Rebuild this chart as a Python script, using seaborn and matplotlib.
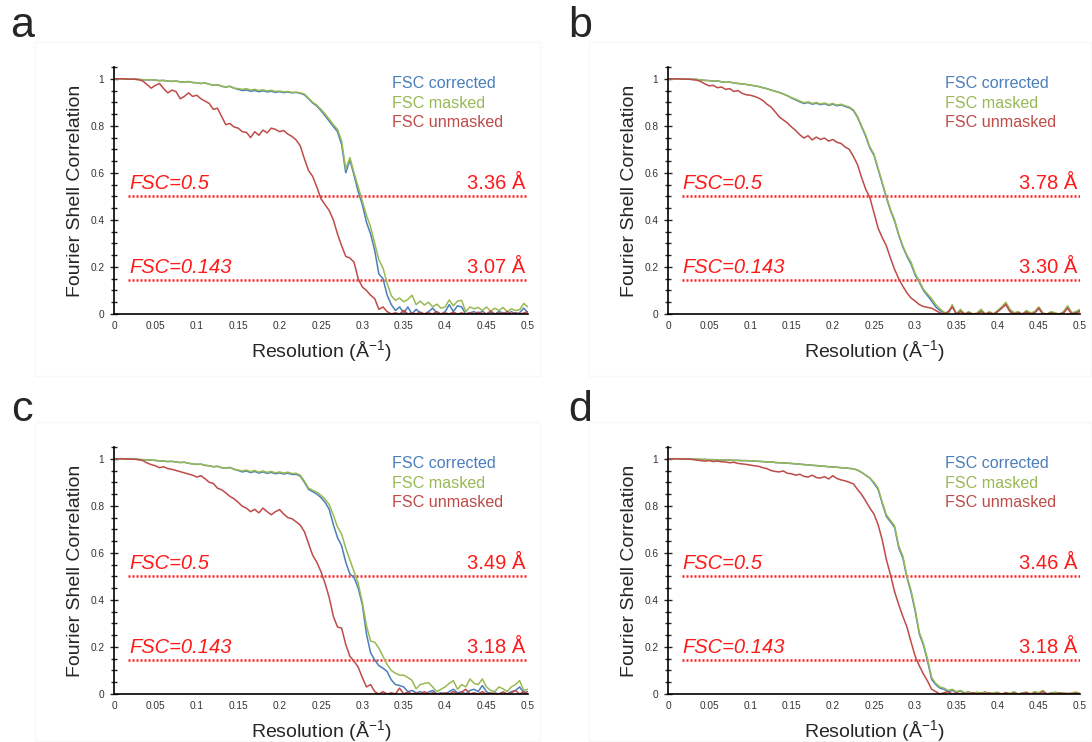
import numpy as np
import pandas as pd
import matplotlib
matplotlib.use('Agg')
import matplotlib.pyplot as plt
from matplotlib.ticker import MultipleLocator, FixedLocator
from matplotlib.patches import Rectangle
import seaborn as sns

# Style
sns.set_style('ticks')
plt.rcParams['font.family'] = ['Liberation Sans', 'DejaVu Sans']
plt.rcParams['mathtext.fontset'] = 'custom'
plt.rcParams['mathtext.rm'] = 'Liberation Sans'
plt.rcParams['mathtext.it'] = 'Liberation Sans:italic'

# Spatial frequency shells (1/A), 0 to 0.5 in steps of 0.005
RES = np.linspace(0, 0.5, 101)

# ---- panel a ----
A_CORRECTED = [
    1.000, 1.000, 1.000, 0.999, 0.998, 0.998, 0.997, 0.996, 0.995, 0.996,
    0.994, 0.992, 0.993, 0.990, 0.989, 0.990, 0.987, 0.986, 0.988, 0.984,
    0.983, 0.980, 0.982, 0.977, 0.972, 0.975, 0.968, 0.965, 0.968, 0.960,
    0.955, 0.950, 0.952, 0.947, 0.950, 0.945, 0.949, 0.944, 0.947, 0.942,
    0.945, 0.941, 0.944, 0.940, 0.942, 0.938, 0.932, 0.915, 0.897, 0.884,
    0.865, 0.843, 0.820, 0.797, 0.775, 0.720, 0.600, 0.655, 0.590, 0.520,
    0.465, 0.390, 0.340, 0.270, 0.170, 0.150, 0.080, 0.040, 0.015, 0.030,
    0.005, 0.030, 0.000, 0.020, 0.005, 0.000, 0.010, 0.025, 0.005, 0.000,
    0.010, 0.040, 0.010, 0.035, 0.030, 0.000, 0.005, 0.010, 0.000, 0.012,
    0.000, 0.008, 0.000, 0.010, 0.005, 0.000, 0.010, 0.000, 0.005, 0.025,
    0.005]
A_MASKED = [
    1.000, 1.000, 1.000, 0.999, 0.998, 0.998, 0.997, 0.996, 0.995, 0.996,
    0.994, 0.992, 0.993, 0.990, 0.989, 0.990, 0.987, 0.986, 0.988, 0.984,
    0.983, 0.980, 0.982, 0.977, 0.972, 0.975, 0.968, 0.965, 0.968, 0.960,
    0.958, 0.955, 0.958, 0.952, 0.955, 0.950, 0.953, 0.948, 0.951, 0.946,
    0.948, 0.944, 0.946, 0.942, 0.943, 0.940, 0.935, 0.918, 0.900, 0.888,
    0.870, 0.850, 0.828, 0.805, 0.785, 0.735, 0.615, 0.665, 0.600, 0.540,
    0.480, 0.420, 0.370, 0.300, 0.230, 0.195, 0.130, 0.078, 0.058, 0.068,
    0.052, 0.062, 0.080, 0.040, 0.055, 0.038, 0.050, 0.030, 0.042, 0.025,
    0.030, 0.060, 0.035, 0.055, 0.058, 0.010, 0.030, 0.022, 0.028, 0.015,
    0.030, 0.012, 0.025, 0.015, 0.028, 0.010, 0.022, 0.015, 0.018, 0.045,
    0.030]
A_UNMASKED = [
    1.000, 1.000, 1.000, 0.999, 0.998, 0.998, 0.996, 0.990, 0.975, 0.960,
    0.972, 0.980, 0.958, 0.940, 0.952, 0.945, 0.915, 0.925, 0.940, 0.925,
    0.930, 0.915, 0.905, 0.895, 0.870, 0.875, 0.840, 0.805, 0.810, 0.795,
    0.790, 0.775, 0.772, 0.750, 0.775, 0.760, 0.782, 0.770, 0.790, 0.785,
    0.775, 0.780, 0.765, 0.755, 0.740, 0.715, 0.660, 0.610, 0.585, 0.540,
    0.490, 0.465, 0.440, 0.400, 0.340, 0.290, 0.245, 0.238, 0.220, 0.150,
    0.115, 0.100, 0.080, 0.065, 0.020, 0.030, 0.010, 0.000, 0.005, 0.000,
    0.015, 0.000, 0.005, 0.000, 0.008, 0.000, 0.005, 0.000, 0.010, 0.000,
    0.005, 0.000, 0.008, 0.000, 0.005, 0.000, 0.006, 0.000, 0.008, 0.002,
    0.000, 0.012, 0.000, 0.005, 0.000, 0.010, 0.000, 0.006, 0.000, 0.004,
    0.010]

# ---- panel b ----
B_CORRECTED = [
    1.000, 1.000, 1.000, 0.999, 0.999, 0.998, 0.998, 0.997, 0.995, 0.993,
    0.992, 0.990, 0.991, 0.987, 0.985, 0.986, 0.982, 0.980, 0.978, 0.976,
    0.973, 0.970, 0.967, 0.962, 0.958, 0.952, 0.947, 0.942, 0.935, 0.928,
    0.918, 0.910, 0.902, 0.895, 0.899, 0.892, 0.896, 0.890, 0.894, 0.887,
    0.892, 0.885, 0.889, 0.882, 0.877, 0.865, 0.836, 0.796, 0.755, 0.705,
    0.675, 0.615, 0.555, 0.495, 0.440, 0.395, 0.335, 0.285, 0.245, 0.212,
    0.165, 0.135, 0.100, 0.078, 0.055, 0.030, 0.015, 0.005, 0.000, 0.035,
    0.000, 0.015, 0.000, 0.005, 0.000, 0.000, 0.015, 0.000, 0.005, 0.000,
    0.010, 0.025, 0.045, 0.015, 0.000, 0.005, 0.000, 0.010, 0.000, 0.005,
    0.025, 0.000, 0.000, 0.005, 0.000, 0.000, 0.005, 0.030, 0.000, 0.005,
    0.015]
B_MASKED = [
    1.000, 1.000, 1.000, 0.999, 0.999, 0.998, 0.998, 0.997, 0.995, 0.993,
    0.992, 0.990, 0.991, 0.987, 0.985, 0.986, 0.982, 0.980, 0.978, 0.976,
    0.973, 0.970, 0.967, 0.962, 0.958, 0.952, 0.947, 0.942, 0.935, 0.928,
    0.920, 0.913, 0.905, 0.898, 0.902, 0.895, 0.899, 0.893, 0.897, 0.890,
    0.895, 0.888, 0.892, 0.885, 0.880, 0.868, 0.840, 0.800, 0.760, 0.710,
    0.680, 0.620, 0.560, 0.500, 0.445, 0.400, 0.340, 0.290, 0.250, 0.220,
    0.172, 0.140, 0.105, 0.085, 0.065, 0.040, 0.022, 0.008, 0.000, 0.040,
    0.000, 0.020, 0.000, 0.010, 0.000, 0.005, 0.020, 0.000, 0.010, 0.000,
    0.015, 0.030, 0.050, 0.020, 0.005, 0.010, 0.000, 0.015, 0.005, 0.010,
    0.030, 0.005, 0.000, 0.010, 0.005, 0.000, 0.010, 0.035, 0.005, 0.010,
    0.020]
B_UNMASKED = [
    1.000, 1.000, 1.000, 0.999, 0.998, 0.998, 0.996, 0.994, 0.988, 0.978,
    0.970, 0.972, 0.962, 0.965, 0.955, 0.958, 0.946, 0.950, 0.938, 0.932,
    0.930, 0.925, 0.918, 0.908, 0.892, 0.880, 0.860, 0.838, 0.825, 0.812,
    0.795, 0.780, 0.762, 0.748, 0.758, 0.740, 0.752, 0.742, 0.748, 0.735,
    0.742, 0.730, 0.725, 0.710, 0.700, 0.670, 0.635, 0.580, 0.530, 0.495,
    0.430, 0.365, 0.325, 0.290, 0.238, 0.190, 0.150, 0.118, 0.090, 0.068,
    0.055, 0.040, 0.032, 0.028, 0.025, 0.015, 0.005, 0.000, 0.010, 0.030,
    0.000, 0.010, 0.000, 0.005, 0.000, 0.000, 0.010, 0.000, 0.005, 0.000,
    0.010, 0.025, 0.040, 0.010, 0.000, 0.005, 0.000, 0.008, 0.000, 0.005,
    0.025, 0.000, 0.000, 0.005, 0.000, 0.000, 0.005, 0.025, 0.000, 0.005,
    0.010]

# ---- panel c ----
C_CORRECTED = [
    1.000, 1.000, 1.000, 0.999, 0.999, 0.998, 0.997, 0.996, 0.995, 0.994,
    0.993, 0.991, 0.990, 0.988, 0.989, 0.986, 0.984, 0.985, 0.981, 0.978,
    0.976, 0.977, 0.972, 0.970, 0.966, 0.968, 0.962, 0.960, 0.963, 0.955,
    0.950, 0.944, 0.948, 0.941, 0.946, 0.939, 0.944, 0.938, 0.942, 0.936,
    0.940, 0.935, 0.939, 0.933, 0.934, 0.926, 0.900, 0.870, 0.860, 0.850,
    0.835, 0.815, 0.785, 0.720, 0.665, 0.630, 0.560, 0.510, 0.495, 0.450,
    0.380, 0.255, 0.175, 0.145, 0.120, 0.110, 0.095, 0.060, 0.040, 0.036,
    0.030, 0.010, 0.015, 0.005, 0.010, 0.000, 0.008, 0.015, 0.000, 0.005,
    0.000, 0.010, 0.020, 0.005, 0.010, 0.000, 0.015, 0.020, 0.010, 0.036,
    0.010, 0.000, 0.005, 0.000, 0.008, 0.000, 0.010, 0.015, 0.030, 0.005,
    0.010]
C_MASKED = [
    1.000, 1.000, 1.000, 0.999, 0.999, 0.998, 0.997, 0.996, 0.995, 0.994,
    0.993, 0.991, 0.990, 0.988, 0.989, 0.986, 0.984, 0.985, 0.981, 0.978,
    0.976, 0.977, 0.972, 0.970, 0.966, 0.968, 0.962, 0.960, 0.963, 0.956,
    0.952, 0.948, 0.952, 0.945, 0.950, 0.943, 0.948, 0.942, 0.946, 0.940,
    0.944, 0.939, 0.943, 0.937, 0.938, 0.930, 0.905, 0.875, 0.866, 0.858,
    0.845, 0.828, 0.805, 0.760, 0.710, 0.680, 0.620, 0.570, 0.520, 0.470,
    0.390, 0.290, 0.225, 0.220, 0.195, 0.160, 0.125, 0.100, 0.088, 0.080,
    0.080, 0.070, 0.058, 0.022, 0.040, 0.045, 0.048, 0.030, 0.010, 0.020,
    0.030, 0.045, 0.057, 0.020, 0.040, 0.030, 0.064, 0.045, 0.040, 0.064,
    0.030, 0.015, 0.010, 0.030, 0.022, 0.010, 0.030, 0.040, 0.057, 0.015,
    0.020]
C_UNMASKED = [
    1.000, 1.000, 1.000, 0.999, 0.998, 0.998, 0.996, 0.992, 0.982, 0.975,
    0.970, 0.962, 0.966, 0.958, 0.955, 0.950, 0.945, 0.940, 0.935, 0.930,
    0.922, 0.928, 0.915, 0.900, 0.895, 0.875, 0.868, 0.855, 0.840, 0.830,
    0.815, 0.798, 0.790, 0.775, 0.785, 0.770, 0.790, 0.775, 0.762, 0.775,
    0.784, 0.765, 0.750, 0.745, 0.732, 0.718, 0.690, 0.640, 0.590, 0.560,
    0.520, 0.470, 0.410, 0.330, 0.285, 0.280, 0.210, 0.160, 0.140, 0.114,
    0.070, 0.030, 0.040, 0.010, 0.000, 0.010, 0.000, 0.005, 0.000, 0.025,
    0.000, 0.008, 0.000, 0.005, 0.000, 0.010, 0.000, 0.005, 0.000, 0.000,
    0.005, 0.000, 0.010, 0.000, 0.008, 0.020, 0.000, 0.005, 0.000, 0.010,
    0.000, 0.005, 0.000, 0.000, 0.008, 0.000, 0.005, 0.015, 0.000, 0.010,
    0.000]

# ---- panel d ----
D_CORRECTED = [
    1.000, 1.000, 1.000, 1.000, 0.999, 0.999, 0.998, 0.998, 0.997, 0.997,
    0.996, 0.996, 0.995, 0.995, 0.994, 0.994, 0.993, 0.993, 0.992, 0.992,
    0.991, 0.990, 0.989, 0.988, 0.986, 0.987, 0.984, 0.983, 0.982, 0.981,
    0.980, 0.978, 0.977, 0.975, 0.974, 0.972, 0.971, 0.969, 0.968, 0.966,
    0.965, 0.964, 0.962, 0.961, 0.959, 0.957, 0.952, 0.942, 0.930, 0.918,
    0.895, 0.870, 0.810, 0.755, 0.732, 0.708, 0.622, 0.578, 0.495, 0.432,
    0.352, 0.255, 0.208, 0.140, 0.062, 0.040, 0.025, 0.020, 0.010, 0.015,
    0.008, 0.012, 0.003, 0.008, 0.000, 0.005, 0.000, 0.008, 0.000, 0.003,
    0.005, 0.000, 0.004, 0.000, 0.008, 0.000, 0.003, 0.005, 0.000, 0.008,
    0.003, 0.012, 0.000, 0.003, 0.005, 0.000, 0.004, 0.000, 0.003, 0.005,
    0.000]
D_MASKED = [
    1.000, 1.000, 1.000, 1.000, 0.999, 0.999, 0.998, 0.998, 0.997, 0.997,
    0.996, 0.996, 0.995, 0.995, 0.994, 0.994, 0.993, 0.993, 0.992, 0.992,
    0.991, 0.990, 0.989, 0.988, 0.986, 0.987, 0.984, 0.983, 0.982, 0.981,
    0.980, 0.978, 0.977, 0.975, 0.974, 0.972, 0.971, 0.969, 0.968, 0.966,
    0.965, 0.964, 0.962, 0.961, 0.959, 0.957, 0.952, 0.942, 0.930, 0.918,
    0.900, 0.875, 0.815, 0.762, 0.738, 0.715, 0.630, 0.586, 0.500, 0.440,
    0.360, 0.262, 0.215, 0.149, 0.070, 0.045, 0.030, 0.025, 0.015, 0.020,
    0.010, 0.015, 0.005, 0.010, 0.000, 0.008, 0.003, 0.010, 0.000, 0.005,
    0.008, 0.000, 0.006, 0.003, 0.010, 0.000, 0.005, 0.008, 0.000, 0.010,
    0.005, 0.015, 0.000, 0.005, 0.008, 0.003, 0.006, 0.000, 0.005, 0.008,
    0.003]
D_UNMASKED = [
    1.000, 1.000, 1.000, 0.999, 0.999, 0.998, 0.997, 0.994, 0.992, 0.990,
    0.992, 0.988, 0.990, 0.987, 0.986, 0.983, 0.985, 0.980, 0.978, 0.976,
    0.973, 0.970, 0.968, 0.962, 0.958, 0.950, 0.946, 0.944, 0.948, 0.938,
    0.936, 0.930, 0.934, 0.925, 0.922, 0.930, 0.920, 0.918, 0.924, 0.914,
    0.928, 0.916, 0.910, 0.906, 0.900, 0.893, 0.870, 0.848, 0.820, 0.790,
    0.765, 0.720, 0.655, 0.572, 0.507, 0.435, 0.380, 0.330, 0.285, 0.221,
    0.160, 0.120, 0.085, 0.055, 0.020, 0.010, 0.000, 0.005, 0.010, 0.000,
    0.005, 0.000, 0.003, 0.000, 0.006, 0.000, 0.004, 0.000, 0.005, 0.000,
    0.003, 0.000, 0.005, 0.000, 0.004, 0.000, 0.003, 0.006, 0.000, 0.004,
    0.000, 0.010, 0.000, 0.003, 0.000, 0.005, 0.000, 0.003, 0.000, 0.004,
    0.000]

PANELS = ['a', 'b', 'c', 'd']
CURVES = [
    [A_CORRECTED, A_MASKED, A_UNMASKED],
    [B_CORRECTED, B_MASKED, B_UNMASKED],
    [C_CORRECTED, C_MASKED, C_UNMASKED],
    [D_CORRECTED, D_MASKED, D_UNMASKED],
]
SERIES = ['FSC corrected', 'FSC masked', 'FSC unmasked']
COLORS = ['#4a7ebb', '#98b954', '#be4b48']
THRESHOLDS = [0.5, 0.143]
THRESH_LABELS = ['FSC=0.5', 'FSC=0.143']
RES_AT_05 = ['3.36 Å', '3.78 Å', '3.49 Å', '3.46 Å']
RES_AT_0143 = ['3.07 Å', '3.30 Å', '3.18 Å', '3.18 Å']
X_TICKS = [0, 0.05, 0.1, 0.15, 0.2, 0.25, 0.3, 0.35, 0.4, 0.45, 0.5]
X_TICKLABELS = ['0', '0.05', '0.1', '0.15', '0.2', '0.25', '0.3', '0.35', '0.4', '0.45', '0.5']
Y_TICKS = [0, 0.2, 0.4, 0.6, 0.8, 1.0]
Y_TICKLABELS = ['0', '0.2', '0.4', '0.6', '0.8', '1']

fig = plt.figure(figsize=(10.92, 7.42), dpi=100)
fig.patch.set_facecolor('white')

# very faint frames around each panel, as in the source figure
W, H = 1092.0, 742.0
for (x0, y0, x1, y1) in [(35, 42, 540, 376), (589, 42, 1091, 376),
                         (35, 422, 540, 741), (589, 422, 1091, 741)]:
    fig.patches.append(Rectangle((x0 / W, 1 - y1 / H), (x1 - x0) / W, (y1 - y0) / H,
                                 transform=fig.transFigure, fill=False,
                                 edgecolor='#f8f8f8', lw=1.0, zorder=0))

# axes rectangles (figure fractions)
ax_rects = [
    (0.1044, 0.5768, 0.3790, 0.3329),
    (0.6117, 0.5768, 0.3773, 0.3329),
    (0.1044, 0.0647, 0.3790, 0.3329),
    (0.6117, 0.0647, 0.3773, 0.3329),
]
letter_pos = [(0.020, 0.950), (0.531, 0.950), (0.020, 0.433), (0.531, 0.433)]

palette = dict(zip(SERIES, COLORS))

for k, rect in enumerate(ax_rects):
    ax = fig.add_axes(rect)
    df = pd.DataFrame({
        'res': np.tile(RES, len(SERIES)),
        'fsc': np.concatenate([np.asarray(c) for c in CURVES[k]]),
        'curve': np.repeat(SERIES, len(RES)),
    })
    sns.lineplot(data=df, x='res', y='fsc', hue='curve', hue_order=SERIES,
                 palette=palette, estimator=None, sort=False, linewidth=1.1,
                 ax=ax, legend=True)

    # threshold lines and labels
    for thr, tlab, rlab in zip(THRESHOLDS, THRESH_LABELS, [RES_AT_05[k], RES_AT_0143[k]]):
        ax.axhline(thr, xmin=0.034, xmax=1.0, color='#ff2020', lw=1.8,
                   linestyle=(0, (0.8, 0.8)), zorder=1)
        ax.text(0.018, thr + 0.016, tlab, color='#ff1a1a', fontsize=14.5,
                style='italic', ha='left', va='bottom')
        ax.text(0.497, thr + 0.016, rlab, color='#ff1a1a', fontsize=14.5,
                ha='right', va='bottom')

    handles, labels = ax.get_legend_handles_labels()
    ax.legend(handles, labels, loc='upper left', bbox_to_anchor=(0.672, 0.962),
              frameon=False, handlelength=0, handletextpad=0, borderpad=0,
              borderaxespad=0, labelspacing=0.28, fontsize=11.6,
              labelcolor=COLORS)
    for h in ax.get_legend().legend_handles:
        h.set_visible(False)

    ax.set_xlim(0, 0.5)
    ax.set_ylim(0, 1.05)
    ax.xaxis.set_major_locator(FixedLocator(X_TICKS))
    ax.set_xticklabels(X_TICKLABELS)
    ax.yaxis.set_major_locator(FixedLocator(Y_TICKS))
    ax.set_yticklabels(Y_TICKLABELS)
    ax.yaxis.set_minor_locator(MultipleLocator(0.05))
    ax.tick_params(axis='x', length=0, pad=5, labelsize=7.3, labelcolor='#333333')
    ax.tick_params(axis='y', which='major', direction='inout', length=6, width=1,
                   pad=4, labelsize=7.3, labelcolor='#333333')
    ax.tick_params(axis='y', which='minor', direction='inout', length=5, width=1)

    sns.despine(ax=ax)
    for side in ['left', 'bottom']:
        ax.spines[side].set_linewidth(1.2)
        ax.spines[side].set_color('black')

    ax.set_xlabel('Resolution (Å$^{-1}$)', fontsize=14)
    ax.set_ylabel('Fourier Shell Correlation', fontsize=14)
    ax.xaxis.set_label_coords(0.5, -0.098)
    ax.yaxis.set_label_coords(-0.072, 0.5)

    fig.text(letter_pos[k][0], letter_pos[k][1], PANELS[k], fontsize=31,
             ha='center', va='baseline')

fig.savefig('out.png', dpi=100, facecolor='white')
